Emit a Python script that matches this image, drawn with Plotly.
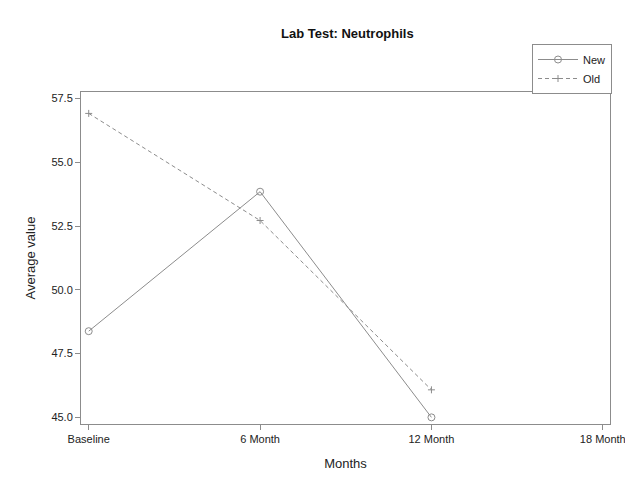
import plotly.graph_objects as go

categories = ["Baseline", "6 Month", "12 Month", "18 Month"]
new_vals = [48.38, 53.85, 45.0]
old_vals = [56.92, 52.72, 46.08]
y_ticks = [45.0, 47.5, 50.0, 52.5, 55.0, 57.5]

L, R, T, B = 81, 15, 92, 58
W, H = 625, 482
pw, ph = W - L - R, H - T - B

grey = "#8c8c8c"
font = "Liberation Sans, Arial, sans-serif"

fig = go.Figure()
fig.add_trace(go.Scatter(
    x=list(range(len(new_vals))), y=new_vals, name="New", mode="lines+markers",
    line=dict(color=grey, width=1),
    marker=dict(symbol="circle-open", size=7, color=grey, line=dict(width=1)),
))
fig.add_trace(go.Scatter(
    x=list(range(len(old_vals))), y=old_vals, name="Old", mode="lines+markers",
    line=dict(color=grey, width=1, dash="4px,3px"),
    marker=dict(symbol="cross-thin-open", size=5, color=grey, line=dict(width=1, color=grey)),
))

fig.update_layout(
    width=W, height=H,
    margin=dict(l=L, r=R, t=T, b=B, autoexpand=False),
    paper_bgcolor="white", plot_bgcolor="white",
    font=dict(family=font, size=12, color="#222"),
    showlegend=True,
    legend=dict(
        x=(612 - L) / pw, y=(H - B - 44) / ph, xanchor="right", yanchor="top",
        bordercolor=grey, borderwidth=1, bgcolor="white",
        font=dict(size=11), tracegroupgap=0, itemwidth=40,
    ),
    xaxis=dict(
        range=[-0.045, 3.042], tickmode="array",
        tickvals=list(range(len(categories))), ticktext=categories,
        showgrid=False, zeroline=False, showline=True, linecolor=grey, linewidth=1,
        mirror=True, ticks="outside", ticklen=5, tickcolor=grey,
        tickfont=dict(size=11), ticklabeloverflow="allow", automargin=False,
        title=dict(text="Months", font=dict(size=13), standoff=14),
    ),
    yaxis=dict(
        range=[44.74, 57.76], tickmode="array", tickvals=y_ticks,
        ticktext=[f"{v:.1f}" for v in y_ticks], automargin=False,
        showgrid=False, zeroline=False, showline=True, linecolor=grey, linewidth=1,
        mirror=True, ticks="outside", ticklen=5, tickcolor=grey,
        tickfont=dict(size=11),
        title=dict(text="Average value", font=dict(size=13), standoff=12),
    ),
    annotations=[dict(
        text="<b>Lab Test: Neutrophils</b>", xref="paper", yref="paper",
        x=(347 - L) / pw, y=(H - B - 33) / ph, xanchor="center", yanchor="middle",
        showarrow=False, font=dict(size=13, color="#111"),
    )],
)

fig.write_html("out.html")
